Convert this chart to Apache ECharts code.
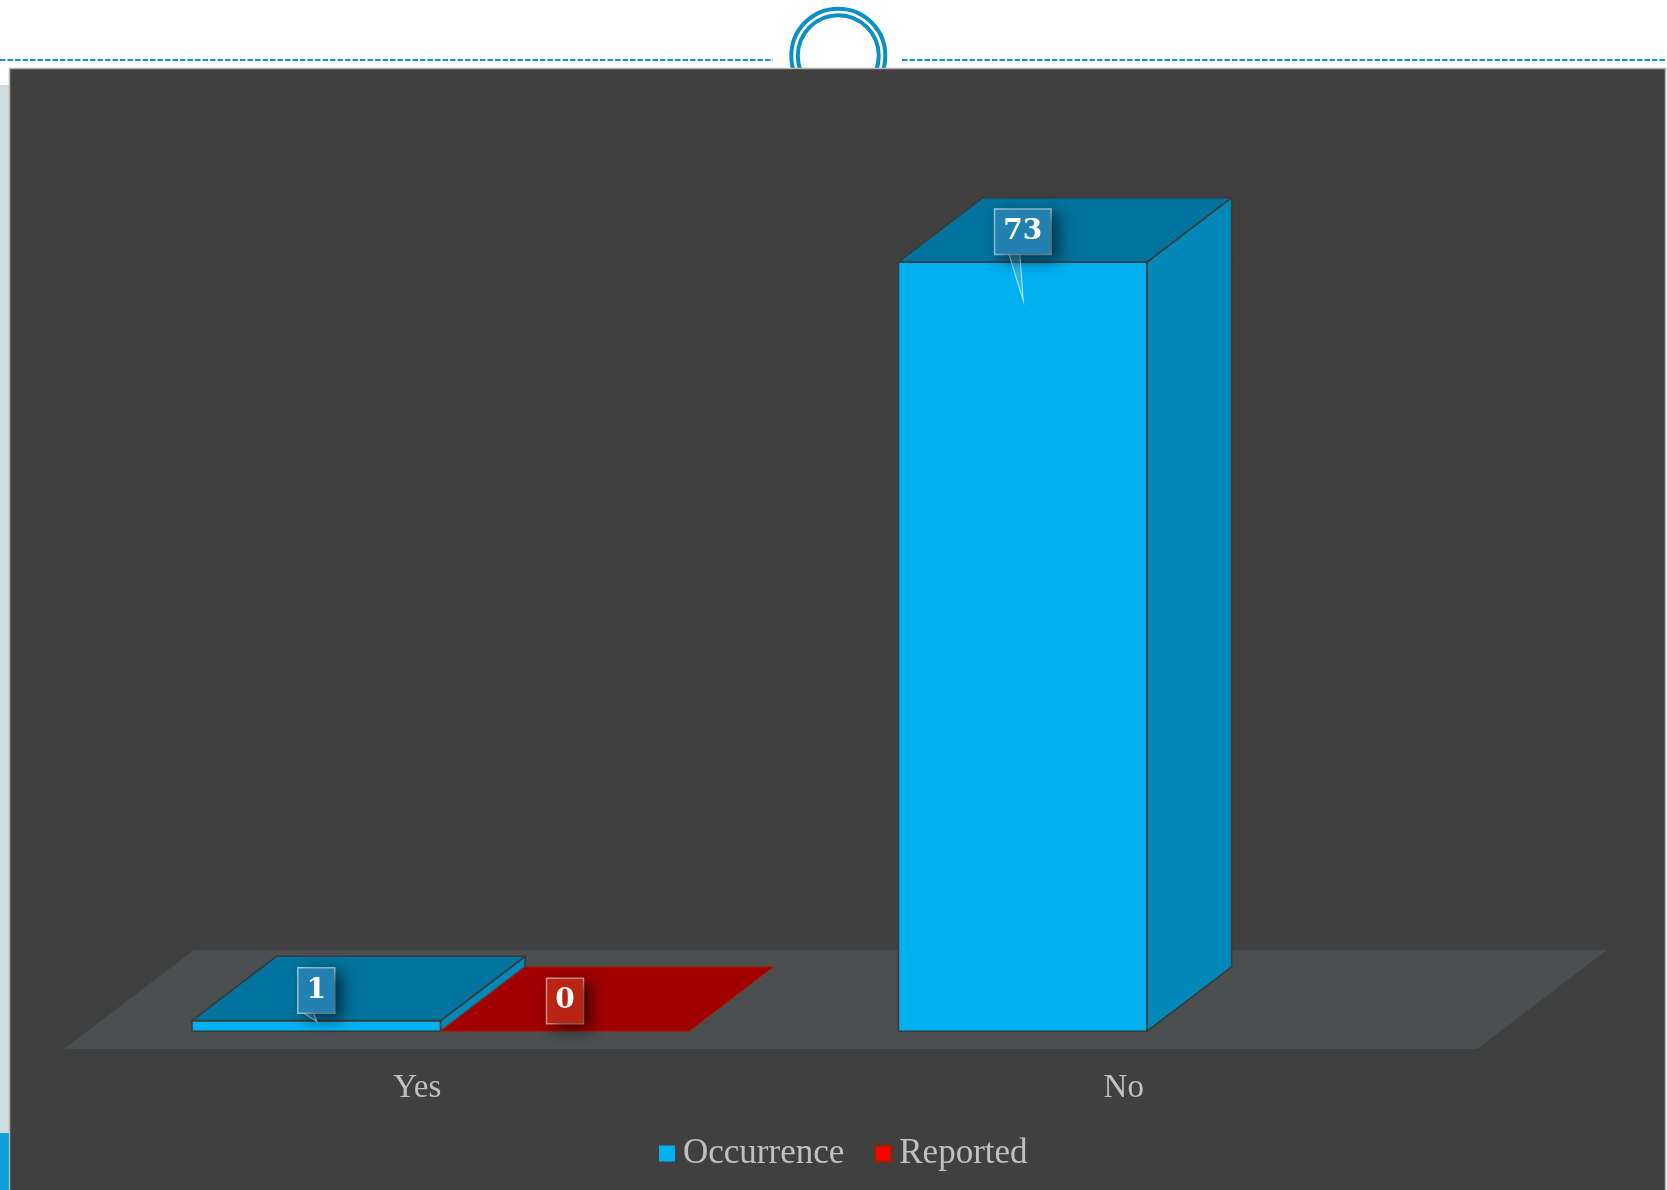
<!DOCTYPE html>
<html>
<head>
<meta charset="utf-8">
<title>Occurrence vs Reported</title>
<script src="https://cdn.jsdelivr.net/npm/echarts@6/dist/echarts.min.js"></script>
<style>
  html, body { margin: 0; padding: 0; background: #ffffff; }
  #chart { width: 1667px; height: 1190px; }
</style>
</head>
<body>
<div id="chart"></div>
<script>
// ---- data ----
const categories = ['Yes', 'No'];
const seriesNames = ['Occurrence', 'Reported'];
const occurrence = [1, 73];
const reported = [0, '-'];   // nothing reported for "No"

// ---- 3D look ----
const DEPTH = [130, -99];          // floor depth projection (px)
const BAR_NEAR = 0.18;             // bar front, as share of floor depth
const BAR_FAR = 0.83;              // bar back
const BAR_SHARE = 0.352;           // bar width as share of the category band
const CALLOUT_TAIL = [8, 46];      // callout pointer length per category (Occurrence)

const palettes = [
  { front: '#00b0f0', top: '#00739e', side: '#0088b8', edge: '#3a3a3a',
    box: '#2381b2', boxBorder: 'rgba(205,232,247,0.75)' },
  { front: '#c00000', top: '#a00000', side: '#8a0000', edge: '#9a2c00',
    box: '#b92414', boxBorder: 'rgba(250,210,200,0.7)' }
];

const LABEL_FONT = '"Liberation Serif", "Times New Roman", serif';

function barRenderer(slot) {
  const pal = palettes[slot];
  return function (params, api) {
    const cat = api.value(0);
    const val = api.value(1);
    if (val === undefined || val === null || isNaN(val)) return;
    const band = api.size([1, 0])[0];
    const base = api.coord([cat, 0]);
    const topPt = api.coord([cat, val]);
    const w = band * BAR_SHARE;
    const nx = DEPTH[0] * BAR_NEAR, ny = DEPTH[1] * BAR_NEAR;
    const dx = DEPTH[0] * (BAR_FAR - BAR_NEAR), dy = DEPTH[1] * (BAR_FAR - BAR_NEAR);
    const x0 = base[0] + nx + (slot === 0 ? -w : 0);
    const x1 = x0 + w;
    const yb = base[1] + ny;
    const yt = topPt[1] + ny;
    const edgeW = slot === 0 ? 1.6 : 1;
    const children = [];
    if (yb - yt > 0.5) {
      children.push({
        type: 'rect',
        shape: { x: x0, y: yt, width: w, height: yb - yt },
        style: { fill: pal.front, stroke: pal.edge, lineWidth: edgeW }
      });
      children.push({
        type: 'polygon',
        shape: { points: [[x1, yt], [x1 + dx, yt + dy], [x1 + dx, yb + dy], [x1, yb]] },
        style: { fill: pal.side, stroke: pal.edge, lineWidth: edgeW }
      });
    }
    children.push({
      type: 'polygon',
      shape: { points: [[x0, yt], [x1, yt], [x1 + dx, yt + dy], [x0 + dx, yt + dy]] },
      style: { fill: pal.top, stroke: pal.edge, lineWidth: edgeW }
    });

    // value callout
    const cx = (x0 + x1) / 2;
    const cy = yt + dy / 2 + 2;
    const boxH = 46;
    if (slot === 0) {
      const bb = cy + boxH / 2;
      children.push({
        type: 'polygon',
        shape: { points: [[cx - 14, bb - 1], [cx - 3, bb - 1], [cx + 0.5, bb + CALLOUT_TAIL[cat]]] },
        style: { fill: 'rgba(120,190,230,0.35)', stroke: 'rgba(210,236,250,0.75)', lineWidth: 1.2 }
      });
    }
    children.push({
      type: 'text',
      x: cx,
      y: cy,
      style: {
        text: String(val),
        fill: '#ffffff',
        font: 'bold 28px "DejaVu Serif", serif',
        align: 'center',
        verticalAlign: 'middle',
        lineHeight: 30,
        padding: [7, 8],
        backgroundColor: pal.box,
        borderColor: pal.boxBorder,
        borderWidth: 1.5,
        shadowColor: 'rgba(0,0,0,0.55)',
        shadowBlur: 14,
        shadowOffsetX: 7,
        shadowOffsetY: 5
      }
    });
    return { type: 'group', children: children };
  };
}

function floorRenderer(params, api) {
  const cs = params.coordSys;
  const yb = cs.y + cs.height;
  return {
    type: 'polygon',
    shape: {
      points: [
        [cs.x, yb],
        [cs.x + cs.width, yb],
        [cs.x + cs.width + DEPTH[0], yb + DEPTH[1]],
        [cs.x + DEPTH[0], yb + DEPTH[1]]
      ]
    },
    style: { fill: '#4a4e4f' },
    silent: true
  };
}

const chart = echarts.init(document.getElementById('chart'), null, { renderer: 'canvas' });

chart.setOption({
  backgroundColor: '#ffffff',
  animation: false,
  graphic: {
    elements: [
      { type: 'circle', z: 0, shape: { cx: 838.3, cy: 55.7, r: 47 },
        style: { fill: null, stroke: '#0b8fc5', lineWidth: 4 } },
      { type: 'circle', z: 0, shape: { cx: 838.3, cy: 55.7, r: 40.5 },
        style: { fill: null, stroke: '#0b8fc5', lineWidth: 4 } },
      { type: 'line', z: 0, shape: { x1: 0, y1: 60, x2: 773, y2: 60 },
        style: { stroke: '#1596cf', lineWidth: 2, lineDash: [5.5, 2] } },
      { type: 'line', z: 0, shape: { x1: 902, y1: 60, x2: 1667, y2: 60 },
        style: { stroke: '#1596cf', lineWidth: 2, lineDash: [5.5, 2] } },
      { type: 'rect', z: 0, shape: { x: 0, y: 85, width: 10, height: 1048 },
        style: { fill: '#d0dbde' } },
      { type: 'rect', z: 0, shape: { x: 0, y: 1133, width: 10, height: 57 },
        style: { fill: '#0aa0d8' } },
      { type: 'rect', z: 1, shape: { x: 9.5, y: 68.5, width: 1656, height: 1130 },
        style: { fill: '#404040', stroke: '#b4b4b4', lineWidth: 1.5 } }
    ]
  },
  grid: { left: 64, right: 190, top: 206, bottom: 141, containLabel: false },
  xAxis: {
    type: 'category',
    z: 10,
    data: categories,
    axisLine: { show: false },
    axisTick: { show: false },
    splitLine: { show: false },
    axisLabel: {
      color: '#c0c0c0',
      fontFamily: LABEL_FONT,
      fontSize: 33,
      margin: 23
    }
  },
  yAxis: {
    type: 'value',
    min: 0,
    max: 80,
    show: false
  },
  legend: {
    z: 10,
    left: 654,
    top: 1131,
    itemWidth: 16,
    itemHeight: 16,
    itemGap: 30,
    textStyle: { color: '#c0c0c0', fontFamily: LABEL_FONT, fontSize: 35, padding: [0, 0, 0, 3] },
    data: [
      { name: seriesNames[0], icon: 'rect', itemStyle: { color: '#00b0f0', borderWidth: 0 } },
      { name: seriesNames[1], icon: 'rect', itemStyle: { color: '#ff0000', borderColor: '#8b2a00', borderWidth: 2 } }
    ]
  },
  series: [
    {
      name: 'floor',
      type: 'custom',
      z: 2,
      silent: true,
      clip: false,
      renderItem: floorRenderer,
      data: [[0, 0]]
    },
    {
      name: seriesNames[0],
      type: 'custom',
      z: 3,
      clip: false,
      itemStyle: { color: '#00b0f0' },
      renderItem: barRenderer(0),
      encode: { x: 0, y: 1 },
      data: categories.map((c, i) => [i, occurrence[i]])
    },
    {
      name: seriesNames[1],
      type: 'custom',
      z: 3,
      clip: false,
      itemStyle: { color: '#ff0000' },
      renderItem: barRenderer(1),
      encode: { x: 0, y: 1 },
      data: categories.map((c, i) => [i, reported[i]])
    }
  ]
});
</script>
</body>
</html>
